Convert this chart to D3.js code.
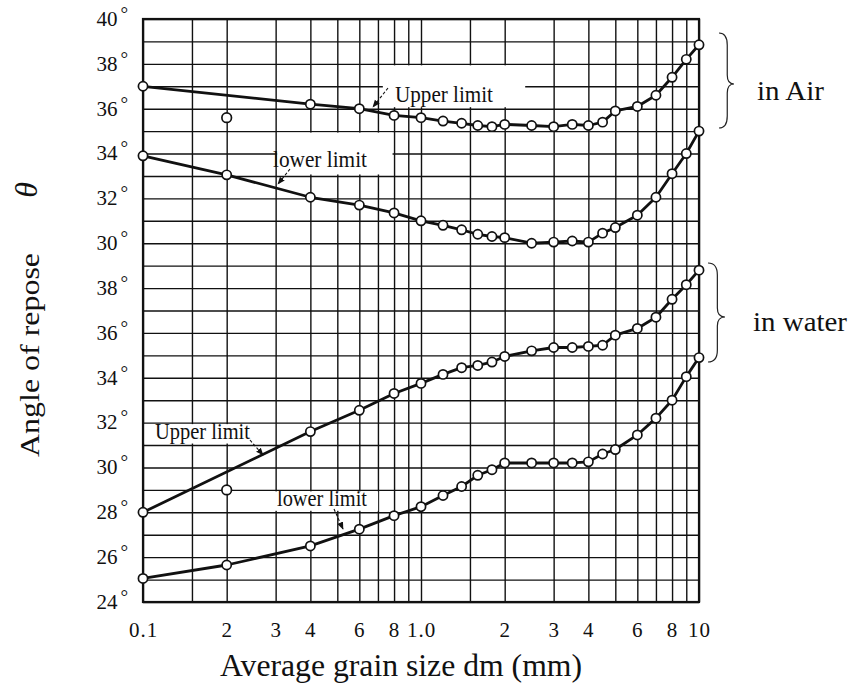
<!DOCTYPE html>
<html>
<head>
<meta charset="utf-8">
<script src="https://cdn.jsdelivr.net/npm/d3@7"></script>
<style>
  body { margin: 0; background: #fff; }
  svg { display: block; }
  text { font-family: "Liberation Serif", "Times New Roman", serif; fill: #111; }
  .grid line { stroke: #111; stroke-width: 1.4; }
  .grid path { display: none; }
</style>
</head>
<body>
<div id="chart"></div>
<script>
// --- data ---
// grain size dm (mm)
const sizesUpper = [0.1, 0.4, 0.6, 0.8, 1.0, 1.2, 1.4, 1.6, 1.8, 2, 2.5, 3, 3.5, 4, 4.5, 5, 6, 7, 8, 9, 10];
const sizesLower = [0.1, 0.2, 0.4, 0.6, 0.8, 1.0, 1.2, 1.4, 1.6, 1.8, 2, 2.5, 3, 3.5, 4, 4.5, 5, 6, 7, 8, 9, 10];

// angle of repose (degrees)
const airUpper   = [37.0, 36.2, 36.0, 35.7, 35.6, 35.45, 35.35, 35.25, 35.2, 35.3, 35.25, 35.2, 35.3, 35.25, 35.4, 35.9, 36.1, 36.6, 37.4, 38.2, 38.85];
const airLower   = [33.9, 33.05, 32.05, 31.7, 31.35, 31.0, 30.8, 30.6, 30.4, 30.3, 30.25, 30.0, 30.05, 30.1, 30.05, 30.45, 30.7, 31.25, 32.05, 33.1, 34.0, 35.0];
const waterUpper = [28.0, 31.6, 32.55, 33.3, 33.75, 34.15, 34.45, 34.55, 34.7, 34.95, 35.2, 35.35, 35.35, 35.4, 35.45, 35.9, 36.2, 36.7, 37.5, 38.15, 38.8];
const waterLower = [25.05, 25.65, 26.5, 27.25, 27.85, 28.25, 28.75, 29.15, 29.65, 29.9, 30.2, 30.2, 30.2, 30.2, 30.25, 30.6, 30.8, 31.45, 32.2, 33.0, 34.05, 34.9];

// lone points at 0.2 mm that are off the upper curves
const strayAir   = [{ x: 0.2, v: 35.6 }];
const strayWater = [{ x: 0.2, v: 29.0 }];

// ticks
const xTicks = [0.1, 0.2, 0.3, 0.4, 0.6, 0.8, 1, 2, 3, 4, 6, 8, 10];
const xTickLabels = ["0.1", "2", "3", "4", "6", "8", "1.0", "2", "3", "4", "6", "8", "10"];
const xGridValues = [0.1, 0.15, 0.2, 0.3, 0.4, 0.5, 0.6, 0.7, 0.8, 0.9, 1, 1.5, 2, 3, 4, 5, 6, 7, 8, 9, 10];
const waterTicks = [24, 26, 28, 30, 32, 34, 36, 38];
const airTicks = [30, 32, 34, 36, 38, 40];

// --- layout ---
const width = 852, height = 689;
const plot = { left: 143, right: 699, top: 19, bottom: 602 };

const svg = d3.select('#chart').append('svg')
    .attr('width', width)
    .attr('height', height);

svg.append('defs').append('marker')
    .attr('id', 'arrow')
    .attr('viewBox', '0 0 10 10')
    .attr('refX', 9).attr('refY', 5)
    .attr('markerWidth', 7).attr('markerHeight', 7)
    .attr('orient', 'auto')
    .append('path').attr('d', 'M0,1 L10,5 L0,9 Z').attr('fill', '#111');

// scales: one vertical scale for water, the air scale is shifted by 10 degrees
const x = d3.scaleLog().domain([0.1, 10]).range([plot.left, plot.right]);
const yWater = d3.scaleLinear().domain([24, 50]).range([plot.bottom, plot.top]);
const yAir = d3.scaleLinear().domain([14, 40]).range([plot.bottom, plot.top]);

// grid
svg.append('g').attr('class', 'grid')
    .attr('transform', `translate(0,${plot.bottom})`)
    .call(d3.axisBottom(x).tickValues(xGridValues).tickSize(-(plot.bottom - plot.top)).tickFormat(''));

svg.append('g').attr('class', 'grid')
    .attr('transform', `translate(${plot.left},0)`)
    .call(d3.axisLeft(yWater).tickValues(d3.range(24, 51)).tickSize(-(plot.right - plot.left)).tickFormat(''));

// white patches behind the labels (grid is cut there in the original)
const patches = [
    { x0: 0.72, x1: 2.4, y0: yAir(38), y1: yAir(36) },
    { x0: 0.3, x1: 0.8, y0: yAir(35), y1: yAir(33) },
    { x0: 0.1, x1: 0.25, y0: yWater(32), y1: yWater(31) },
    { x0: 0.29, x1: 0.71, y0: yWater(29), y1: yWater(28) }
];
svg.selectAll('.patch').data(patches).enter().append('rect')
    .attr('class', 'patch')
    .attr('x', d => x(d.x0) + 1.5)
    .attr('y', d => d.y0 + 1.5)
    .attr('width', d => x(d.x1) - x(d.x0) - 3)
    .attr('height', d => d.y1 - d.y0 - 3)
    .attr('fill', '#fff');

// frame
svg.append('rect')
    .attr('x', plot.left).attr('y', plot.top)
    .attr('width', plot.right - plot.left).attr('height', plot.bottom - plot.top)
    .attr('fill', 'none').attr('stroke', '#111').attr('stroke-width', 2.2);

// x tick labels
const xAxisG = svg.append('g')
    .attr('transform', `translate(0,${plot.bottom})`)
    .call(d3.axisBottom(x).tickValues(xTicks).tickSize(0).tickPadding(20)
        .tickFormat((d, i) => xTickLabels[i]));
xAxisG.select('.domain').remove();
xAxisG.selectAll('text')
    .attr('font-size', 21).attr('font-family', '"Liberation Serif", serif')
    .attr('letter-spacing', 1).attr('fill', '#222');

// y tick labels, water part and air part
function degreeAxis(scale, ticks) {
    const g = svg.append('g')
        .attr('transform', `translate(${plot.left},0)`)
        .call(d3.axisLeft(scale).tickValues(ticks).tickSize(0).tickPadding(15).tickFormat(''));
    g.select('.domain').remove();
    g.selectAll('.tick text').each(function(d) {
        const t = d3.select(this)
            .attr('font-size', 21).attr('font-family', '"Liberation Serif", serif')
            .attr('fill', '#222').attr('dy', '0.3em');
        t.append('tspan').text(d);
        t.append('tspan').attr('dx', 3).attr('dy', -6).attr('font-size', 19).text('°');
    });
}
degreeAxis(yWater, waterTicks);
degreeAxis(yAir, airTicks);

// curves
const curves = [
    { sizes: sizesUpper, values: airUpper, y: yAir },
    { sizes: sizesLower, values: airLower, y: yAir },
    { sizes: sizesUpper, values: waterUpper, y: yWater },
    { sizes: sizesLower, values: waterLower, y: yWater }
];

curves.forEach(c => {
    const pts = c.sizes.map((s, i) => ({ x: s, v: c.values[i] }));
    svg.append('path')
        .datum(pts)
        .attr('fill', 'none')
        .attr('stroke', '#111')
        .attr('stroke-width', 2.8)
        .attr('stroke-linejoin', 'round')
        .attr('d', d3.line().x(d => x(d.x)).y(d => c.y(d.v)));
    svg.append('g').selectAll('circle').data(pts).enter().append('circle')
        .attr('cx', d => x(d.x)).attr('cy', d => c.y(d.v)).attr('r', 4.6)
        .attr('fill', '#fff').attr('stroke', '#111').attr('stroke-width', 1.7);
});

[[strayAir, yAir], [strayWater, yWater]].forEach(([pts, y]) => {
    svg.append('g').selectAll('circle').data(pts).enter().append('circle')
        .attr('cx', d => x(d.x)).attr('cy', d => y(d.v)).attr('r', 4.8)
        .attr('fill', '#fff').attr('stroke', '#111').attr('stroke-width', 1.7);
});

// labels on the curves with little arrows
const notes = [
    { text: 'Upper limit', tx: 395, ty: 102, len: 98, a: [388, 88, 373, 107] },
    { text: 'lower limit', tx: 273, ty: 167, len: 94, a: [290, 169, 278, 184] },
    { text: 'Upper limit', tx: 155, ty: 439, len: 95, a: [250, 440, 263, 455] },
    { text: 'lower limit', tx: 277, ty: 506, len: 90, a: [334, 509, 343, 529] }
];
notes.forEach(n => {
    svg.append('text')
        .attr('x', n.tx).attr('y', n.ty)
        .attr('font-size', 23)
        .attr('textLength', n.len).attr('lengthAdjust', 'spacingAndGlyphs')
        .text(n.text);
    svg.append('line')
        .attr('x1', n.a[0]).attr('y1', n.a[1]).attr('x2', n.a[2]).attr('y2', n.a[3])
        .attr('stroke', '#111').attr('stroke-width', 1.1).attr('stroke-dasharray', '3,2')
        .attr('marker-end', 'url(#arrow)');
});

// braces on the right
function brace(x0, y0, y1, tip, w) {
    const xm = x0 + w * 0.55;
    return `M${x0},${y0} Q${xm},${y0} ${xm},${y0 + 12} L${xm},${tip - 9} Q${xm},${tip} ${x0 + w},${tip}` +
           ` Q${xm},${tip} ${xm},${tip + 9} L${xm},${y1 - 12} Q${xm},${y1} ${x0},${y1}`;
}
svg.append('path').attr('d', brace(719, 33, 128, 84, 15))
    .attr('fill', 'none').attr('stroke', '#222').attr('stroke-width', 1.2);
svg.append('path').attr('d', brace(708, 263, 362, 317, 17))
    .attr('fill', 'none').attr('stroke', '#222').attr('stroke-width', 1.2);

svg.append('text').attr('x', 757).attr('y', 100).attr('font-size', 28)
    .attr('textLength', 67).attr('lengthAdjust', 'spacingAndGlyphs').text('in Air');
svg.append('text').attr('x', 753).attr('y', 331).attr('font-size', 28)
    .attr('textLength', 94).attr('lengthAdjust', 'spacingAndGlyphs').text('in water');

// axis titles
svg.append('text')
    .attr('x', 401).attr('y', 676)
    .attr('text-anchor', 'middle')
    .attr('font-size', 31)
    .attr('textLength', 362).attr('lengthAdjust', 'spacingAndGlyphs')
    .text('Average grain size dm (mm)');

svg.append('text')
    .attr('transform', 'translate(39,355) rotate(-90)')
    .attr('text-anchor', 'middle')
    .attr('font-size', 28)
    .attr('textLength', 204).attr('lengthAdjust', 'spacingAndGlyphs')
    .text('Angle of repose');

svg.append('text')
    .attr('transform', 'translate(37,190) rotate(-90)')
    .attr('text-anchor', 'middle')
    .attr('font-size', 32)
    .attr('font-style', 'italic')
    .text('θ');
</script>
</body>
</html>
